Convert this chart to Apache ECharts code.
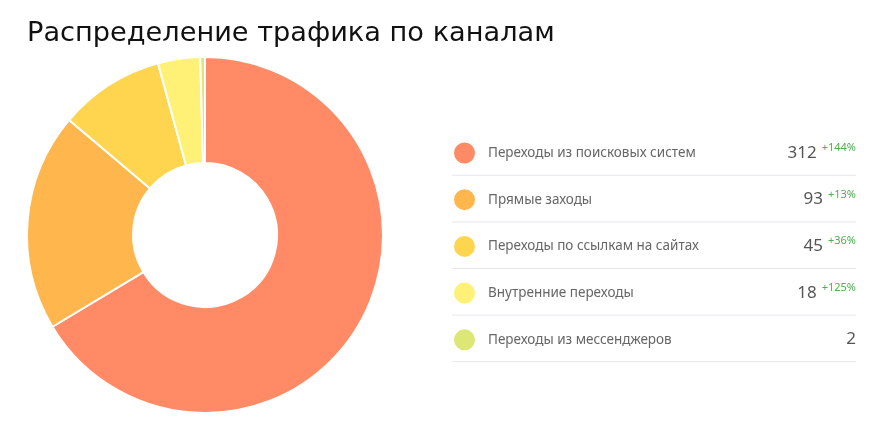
<!DOCTYPE html>
<html><head><meta charset="utf-8">
<script src="https://cdn.jsdelivr.net/npm/echarts@6/dist/echarts.min.js"></script>
<style>html,body{margin:0;padding:0;background:#fff}#c{width:895px;height:435px}</style>
</head><body><div id="c"></div>
<script>
const titleText = 'Распределение трафика по каналам';
const categories = ['Переходы из поисковых систем','Прямые заходы','Переходы по ссылкам на сайтах','Внутренние переходы','Переходы из мессенджеров'];
const values = [312, 93, 45, 18, 2];
const changes = ['+144%', '+13%', '+36%', '+125%', ''];
const colors = ['#FF8A65','#FFB74D','#FFD54F','#FFF176','#DCE775'];

const TFONT = 'Verdana, "DejaVu Sans", sans-serif';
const FONT = '"Noto Sans", sans-serif';
const rowTop = 152, rowStep = 46.6, rightX = 856, lineLeft = 452;
const cnv = document.createElement('canvas').getContext('2d');
function tw(t, size){ cnv.font = size + 'px ' + FONT; return cnv.measureText(t).width; }

const graphics = [];
categories.forEach((c, i) => {
  const y = rowTop + i * rowStep;
  graphics.push({type:'line', shape:{x1:lineLeft, y1:y+23.3, x2:rightX, y2:y+23.3}, style:{stroke:'#e6e6ee', lineWidth:1}, silent:true});
  const pctW = changes[i] ? tw(changes[i], 11) : 0;
  graphics.push({type:'text', x: rightX - (changes[i] ? pctW + 5 : 0), y: y + 1, style:{text:String(values[i]), font:'17px ' + FONT, fill:'#555', align:'right', verticalAlign:'middle'}});
  if (changes[i]) graphics.push({type:'text', x: rightX, y: y - 4, style:{text:changes[i], font:'11px ' + FONT, fill:'#4caf50', align:'right', verticalAlign:'middle'}});
});

const chart = echarts.init(document.getElementById('c'));
chart.setOption({
  animation:false,
  color: colors,
  title:{text:titleText, left:27, top:20, padding:0, textStyle:{fontFamily:TFONT, fontSize:27.2, fontWeight:'normal', color:'#111'}},
  legend:{orient:'vertical', left:452, top:rowTop - 11.5, padding:0, icon:'circle', itemWidth:23, itemHeight:23, itemGap:rowStep - 23 - 1.9,
    selectedMode:false, formatter: n => '  ' + n,
    textStyle:{fontFamily:FONT, fontSize:13.5, color:'#666'}, data:categories},
  series:[{type:'pie', center:[205,235], radius:[72,178], startAngle:90, clockwise:true,
    label:{show:false}, labelLine:{show:false}, emphasis:{disabled:true},
    itemStyle:{borderColor:'#fff', borderWidth:2},
    data: categories.map((c,i)=>({name:c, value:values[i]}))}],
  graphic: graphics
});
</script></body></html>
